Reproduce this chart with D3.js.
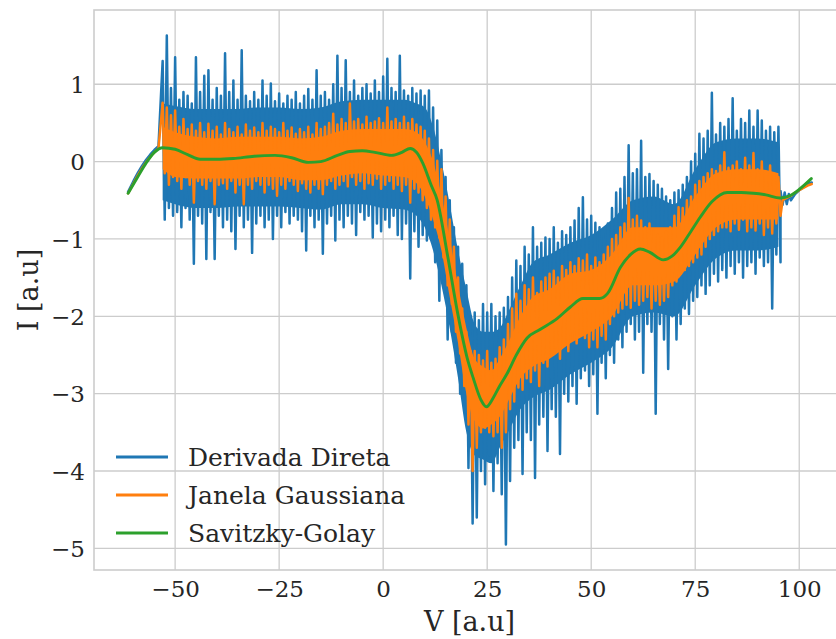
<!DOCTYPE html>
<html>
<head>
<meta charset="utf-8">
<script src="https://cdn.jsdelivr.net/npm/d3@7"></script>
<style>
  body { margin: 0; background: #fff; }
  svg { display: block; font-family: "DejaVu Serif", serif; }
</style>
</head>
<body>
<div id="chart"></div>
<script>
// valores (passo de 1 V na região ruidosa, de -53 a 95)
const noiseStart = -53;

const blueHi = [
  1.3, 1.63, 0.95, 1.35, 0.8, 0.9, 0.85, 0.75, 1.35, 0.9,
  1.11, 1.18, 0.8, 0.95, 0.85, 1.4, 0.9, 1.05, 0.8, 1.44,
  0.85, 0.78, 0.9, 0.8, 1.05, 0.85, 1.01, 0.78, 0.88, 0.75,
  0.85, 0.8, 0.9, 0.75, 0.85, 0.94, 0.8, 1.18, 0.85, 0.9,
  0.8, 1.0, 1.37, 0.95, 1.31, 0.9, 1.05, 0.85, 0.95, 1.0,
  0.88, 1.05, 0.9, 1.1, 1.33, 0.95, 0.9, 1.37, 0.92, 0.85,
  0.95, 0.88, 0.92, 0.85, 0.92, 0.7, 0.53, 0.15, -0.2, -0.5,
  -0.85, -1.1, -1.32, -1.6, -2.0, -1.95, -2.05, -1.84, -1.95, -1.84,
  -2.0, -1.95, -1.89, -1.75, -1.5, -1.28, -1.35, -1.1, -1.2, -0.85,
  -1.1, -1.05, -0.98, -1.0, -0.85, -1.05, -0.9, -0.95, -0.85, -0.76,
  -0.6, -0.46, -0.75, -0.7, -0.79, -0.85, -0.95, -0.8, -0.6, -0.4,
  -0.35, -0.2, 0.21, -0.15, -0.1, 0.27, -0.2, -0.16, -0.25, -0.3,
  -0.35, -0.45, -0.5, -0.4, -0.37, -0.3, -0.2, 0.0, 0.1, 0.36,
  0.3, 0.4, 0.89, 0.35, 0.5, 0.45, 0.55, 0.82, 0.4, 0.55,
  0.5, 0.66, 0.45, 0.66, 0.53, 0.4, 0.45, 0.38, 0.45
];
const blueLo = [
  -0.75, -0.6, -0.7, -0.65, -0.85, -0.6, -0.75, -1.32, -0.7, -0.8,
  -1.26, -0.65, -1.26, -0.7, -0.85, -0.75, -0.9, -1.13, -0.7, -0.85,
  -0.75, -1.18, -0.8, -0.7, -0.85, -0.75, -1.0, -0.7, -0.85, -0.65,
  -0.8, -0.7, -0.75, -0.9, -1.15, -0.7, -0.85, -0.75, -1.19, -0.8,
  -0.7, -1.02, -0.75, -0.85, -0.7, -0.8, -0.95, -0.65, -0.75, -0.7,
  -0.98, -0.8, -0.9, -0.75, -0.85, -0.7, -0.95, -1.0, -0.8, -1.51,
  -0.9, -1.1, -0.95, -1.02, -1.0, -1.3, -1.8, -1.6, -2.3, -2.2,
  -2.6, -3.0, -2.9, -3.96, -4.68, -4.6, -4.0, -4.17, -3.8, -4.26,
  -3.9, -4.3, -4.95, -4.13, -3.7, -3.6, -4.04, -3.5, -3.6, -4.09,
  -3.4, -3.3, -3.74, -3.2, -3.3, -3.78, -3.0, -3.1, -2.9, -3.13,
  -2.8, -2.7, -2.9, -2.75, -3.26, -2.6, -2.8, -2.5, -2.6, -2.3,
  -2.4, -2.2, -2.1, -2.3, -2.2, -2.73, -2.1, -2.2, -3.26, -2.1,
  -2.3, -2.68, -2.0, -2.3, -2.1, -1.9, -1.97, -1.8, -1.75, -1.6,
  -1.71, -1.6, -1.45, -1.55, -1.4, -1.5, -1.35, -1.45, -1.3, -1.5,
  -1.35, -1.3, -1.45, -1.24, -1.35, -1.3, -1.9, -1.2, -1.3
];
const orangeHi = [
  0.76, 0.7, 0.6, 0.66, 0.45, 0.55, 0.42, 0.48, 0.4, 0.5,
  0.38, 0.49, 0.4, 0.45, 0.35, 0.5, 0.42, 0.38, 0.45, 0.35,
  0.48, 0.4, 0.44, 0.38, 0.5, 0.4, 0.45, 0.42, 0.38, 0.5,
  0.4, 0.44, 0.36, 0.42, 0.38, 0.45, 0.35, 0.5, 0.42, 0.45,
  0.5, 0.62, 0.48, 0.55, 0.5, 0.75, 0.52, 0.55, 0.48, 0.58,
  0.5, 0.52, 0.56, 0.5, 0.7, 0.52, 0.55, 0.5, 0.58, 0.5,
  0.55, 0.48, 0.45, 0.4, 0.3, 0.15, 0.01, -0.1, -0.45, -0.75,
  -1.1, -1.5, -1.9, -2.2, -2.45, -2.45, -2.5, -2.57, -2.45, -2.6,
  -2.55, -2.4, -2.3, -2.1, -1.9, -1.71, -1.8, -1.6, -1.65, -1.5,
  -1.7, -1.55, -1.5, -1.45, -1.41, -1.5, -1.35, -1.4, -1.3, -1.35,
  -1.25, -1.28, -1.2, -1.35, -1.24, -1.3, -1.2, -1.1, -1.0, -0.95,
  -0.85, -0.8, -0.47, -0.75, -0.7, -0.76, -0.85, -0.8, -0.9, -0.95,
  -0.98, -0.9, -0.85, -0.7, -0.59, -0.6, -0.5, -0.45, -0.3, -0.25,
  -0.2, -0.15, -0.1, -0.12, -0.05, 0.12, -0.08, -0.05, 0.0, -0.1,
  0.05, -0.05, 0.11, -0.1, 0.0, -0.15, -0.05, -0.16, -0.2
];
const orangeLo = [
  -0.15, -0.3, -0.2, -0.25, -0.35, -0.2, -0.3, -0.53, -0.25, -0.3,
  -0.35, -0.25, -0.55, -0.3, -0.28, -0.35, -0.25, -0.4, -0.3, -0.55,
  -0.3, -0.35, -0.25, -0.3, -0.4, -0.3, -0.35, -0.44, -0.3, -0.35,
  -0.25, -0.3, -0.38, -0.28, -0.35, -0.4, -0.3, -0.35, -0.42, -0.3,
  -0.25, -0.35, -0.3, -0.25, -0.32, -0.2, -0.3, -0.25, -0.35, -0.28,
  -0.3, -0.22, -0.35, -0.3, -0.25, -0.35, -0.3, -0.38, -0.3, -0.53,
  -0.35, -0.4, -0.5, -0.6, -0.75, -0.85, -0.98, -1.24, -1.6, -1.84,
  -2.2, -2.48, -2.9, -3.4, -4.0, -3.7, -3.5, -3.44, -3.5, -3.55,
  -3.5, -3.7, -3.5, -3.2, -3.1, -2.92, -2.95, -2.8, -2.85, -2.7,
  -2.9, -2.6, -2.65, -2.5, -2.4, -2.55, -2.35, -2.45, -2.3, -2.35,
  -2.25, -2.28, -2.4, -2.3, -2.4, -2.25, -2.3, -2.1, -2.0, -1.95,
  -1.9, -1.85, -1.89, -1.8, -1.85, -1.8, -1.75, -1.9, -1.8, -1.85,
  -1.8, -1.75, -1.6, -1.55, -1.45, -1.4, -1.35, -1.3, -1.24, -1.2,
  -1.1, -1.0, -0.95, -0.9, -0.85, -0.85, -0.9, -0.8, -0.88, -0.75,
  -0.9, -0.85, -0.89, -0.8, -0.95, -0.85, -0.93, -0.8, -0.7
];

// faixa densa (onde o traço ruidoso se sobrepõe)
const coreV       = [-53, -50, -45, -40, -35, -30, -25, -20, -15, -10, -5, 0, 5, 8, 10, 12, 14, 16, 18, 20,
  22, 24, 26, 28, 30, 33, 36, 40, 45, 50, 55, 60, 65, 70, 75, 80, 85, 90, 95];
const blueCoreHi  = [0.75, 0.72, 0.68, 0.68, 0.68, 0.7, 0.7, 0.68, 0.7, 0.78, 0.8, 0.8, 0.8, 0.75, 0.7, 0.45, 0.0, -0.55, -1.15, -1.65,
  -2.1, -2.2, -2.2, -2.15, -1.95, -1.6, -1.3, -1.2, -1.05, -0.95, -0.75, -0.5, -0.45, -0.55, -0.1, 0.25, 0.3, 0.3, 0.25];
const blueCoreLo  = [-0.5, -0.55, -0.6, -0.6, -0.58, -0.58, -0.58, -0.6, -0.62, -0.55, -0.55, -0.6, -0.62, -0.7, -0.85, -1.15, -1.6, -2.15, -2.8, -3.5,
  -3.8, -3.85, -3.9, -3.7, -3.5, -3.2, -3.05, -2.95, -2.75, -2.6, -2.4, -2.0, -1.95, -2.0, -1.6, -1.25, -1.15, -1.15, -1.1];
const orangeCoreHi = [0.45, 0.38, 0.32, 0.3, 0.32, 0.32, 0.32, 0.3, 0.32, 0.4, 0.42, 0.42, 0.42, 0.38, 0.25, 0.0, -0.45, -1.0, -1.6, -2.15,
  -2.55, -2.65, -2.7, -2.55, -2.35, -2.0, -1.75, -1.65, -1.45, -1.4, -1.2, -0.85, -0.85, -0.85, -0.45, -0.15, -0.1, -0.1, -0.15];
const orangeCoreLo = [-0.1, -0.2, -0.22, -0.22, -0.22, -0.2, -0.2, -0.24, -0.24, -0.18, -0.15, -0.18, -0.2, -0.28, -0.45, -0.75, -1.15, -1.75, -2.35, -3.0,
  -3.35, -3.45, -3.4, -3.3, -3.1, -2.8, -2.65, -2.55, -2.35, -2.2, -2.0, -1.6, -1.6, -1.55, -1.2, -0.85, -0.75, -0.75, -0.75];

// trechos suaves nas pontas
const headV      = [-61.3, -60, -59, -58, -57, -56, -55, -54];
const blueHead   = [-0.39, -0.25, -0.15, -0.06, 0.02, 0.09, 0.15, 0.2];
const orangeHead = [-0.41, -0.28, -0.18, -0.09, -0.01, 0.06, 0.12, 0.17];
const blueTailV  = [95.5, 96, 96.5, 97, 97.5, 98, 99, 100, 101, 102, 103];
const blueTail   = [-0.38, -0.56, -0.4, -0.55, -0.42, -0.5, -0.42, -0.37, -0.33, -0.29, -0.27];
const orangeTailV = [96, 97, 98, 99, 100, 101, 102, 103];
const orangeTail  = [-0.5, -0.47, -0.44, -0.4, -0.37, -0.34, -0.31, -0.29];

// Savitzky-Golay
const sgV = [-61.3, -59, -57, -55, -53, -50, -47, -44, -40, -36, -31, -26, -22, -18, -15, -11, -8, -5, -2, 2,
  4.5, 6.5, 8, 9.6, 11.5, 13, 15.4, 17.8, 20.2, 21.6, 23.5, 24.8, 26.5, 28, 29.8, 32, 34.6, 37.7, 41.8, 45,
  48, 50, 52, 54, 57, 59.5, 61.8, 64, 67.3, 69.5, 71.4, 74, 76.2, 79, 82.7, 86, 89, 92, 95.4, 97.8, 100.2, 102.9];
const sgI = [-0.41, -0.2, -0.02, 0.12, 0.18, 0.16, 0.09, 0.03, 0.03, 0.04, 0.07, 0.08, 0.05, -0.01, 0.0, 0.08, 0.13, 0.14, 0.12, 0.08,
  0.12, 0.17, 0.12, -0.03, -0.3, -0.5, -1.19, -1.93, -2.54, -2.79, -3.08, -3.17, -3.05, -2.9, -2.74, -2.5, -2.28, -2.17, -2.03, -1.88,
  -1.77, -1.77, -1.77, -1.7, -1.37, -1.2, -1.13, -1.17, -1.27, -1.22, -1.11, -0.9, -0.72, -0.52, -0.4, -0.4, -0.41, -0.43, -0.47, -0.44, -0.35, -0.22];

const xTicks = [-50, -25, 0, 25, 50, 75, 100];
const yTicks = [-5, -4, -3, -2, -1, 0, 1];
const seriesNames = ["Derivada Direta", "Janela Gaussiana", "Savitzky-Golay"];
const seriesColors = ["#1f77b4", "#ff7f0e", "#2ca02c"];

const width = 836, height = 639;
const plot = { left: 94, right: 845, top: 10, bottom: 570 };

const x = d3.scaleLinear().domain([-69.5, 111.0]).range([plot.left, plot.right]);
const y = d3.scaleLinear().domain([-5.28, 1.96]).range([plot.bottom, plot.top]);

function buildSeries(hV, hI, hi, lo, tV, tI) {
  const pts = hV.map((v, i) => [v, hI[i]]);
  hi.forEach((h, i) => {
    const v = noiseStart + i;
    pts.push([v, h]);
    pts.push([v + 0.5, lo[i]]);
  });
  tV.forEach((v, i) => pts.push([v, tI[i]]));
  return pts;
}

const blueData = buildSeries(headV, blueHead, blueHi, blueLo, blueTailV, blueTail);
const orangeData = buildSeries(headV, orangeHead, orangeHi, orangeLo, orangeTailV, orangeTail);
const sgData = sgV.map((v, i) => [v, sgI[i]]);
const blueCore = coreV.map((v, i) => [v, blueCoreHi[i], blueCoreLo[i]]);
const orangeCore = coreV.map((v, i) => [v, orangeCoreHi[i], orangeCoreLo[i]]);

const svg = d3.select("#chart").append("svg")
  .attr("width", width)
  .attr("height", height);

svg.append("defs").append("clipPath").attr("id", "clip")
  .append("rect")
  .attr("x", plot.left).attr("y", plot.top)
  .attr("width", plot.right - plot.left).attr("height", plot.bottom - plot.top);

// grade
const grid = svg.append("g").attr("stroke", "#cccccc").attr("stroke-width", 1.3);
grid.selectAll(".gx").data(xTicks).join("line")
  .attr("x1", d => x(d)).attr("x2", d => x(d))
  .attr("y1", plot.top).attr("y2", plot.bottom);
grid.selectAll(".gy").data(yTicks).join("line")
  .attr("x1", plot.left).attr("x2", plot.right)
  .attr("y1", d => y(d)).attr("y2", d => y(d));

svg.append("rect")
  .attr("x", plot.left).attr("y", plot.top)
  .attr("width", plot.right - plot.left).attr("height", plot.bottom - plot.top)
  .attr("fill", "none").attr("stroke", "#cccccc").attr("stroke-width", 1.6);

// linhas
const line = d3.line().x(d => x(d[0])).y(d => y(d[1]));
const smooth = d3.line().x(d => x(d[0])).y(d => y(d[1])).curve(d3.curveMonotoneX);
const band = d3.area().x(d => x(d[0])).y0(d => y(d[2])).y1(d => y(d[1])).curve(d3.curveMonotoneX);

const lines = svg.append("g").attr("clip-path", "url(#clip)")
  .attr("stroke-linejoin", "round").attr("stroke-linecap", "round");

lines.append("path").datum(blueCore).attr("d", band)
  .attr("fill", seriesColors[0]);
lines.append("path").datum(blueData).attr("d", line)
  .attr("fill", "none").attr("stroke", seriesColors[0]).attr("stroke-width", 2.5);
lines.append("path").datum(orangeCore).attr("d", band)
  .attr("fill", seriesColors[1]);
lines.append("path").datum(orangeData).attr("d", line)
  .attr("fill", "none").attr("stroke", seriesColors[1]).attr("stroke-width", 2.5);
lines.append("path").datum(sgData).attr("d", smooth)
  .attr("fill", "none").attr("stroke", seriesColors[2]).attr("stroke-width", 2.9);

// eixos
const xAxis = svg.append("g")
  .attr("transform", `translate(0,${plot.bottom})`)
  .call(d3.axisBottom(x).tickValues(xTicks).tickSize(0).tickPadding(0)
    .tickFormat(d => d < 0 ? "\u2212" + Math.abs(d) : d));
xAxis.select(".domain").remove();
xAxis.selectAll("text")
  .attr("y", 27).attr("dy", null)
  .attr("font-size", 23).attr("fill", "#262626")
  .attr("font-family", "DejaVu Serif");

const yAxis = svg.append("g")
  .attr("transform", `translate(${plot.left},0)`)
  .call(d3.axisLeft(y).tickValues(yTicks).tickSize(0).tickPadding(0)
    .tickFormat(d => d < 0 ? "\u2212" + Math.abs(d) : d));
yAxis.select(".domain").remove();
yAxis.selectAll("text")
  .attr("x", -9).attr("dy", "0.36em")
  .attr("font-size", 23).attr("fill", "#262626")
  .attr("font-family", "DejaVu Serif");

svg.append("text")
  .attr("x", (plot.left + plot.right) / 2).attr("y", 631)
  .attr("text-anchor", "middle")
  .attr("font-size", 27).attr("fill", "#262626")
  .text("V [a.u]");

svg.append("text")
  .attr("transform", `translate(38,${(plot.top + plot.bottom) / 2}) rotate(-90)`)
  .attr("text-anchor", "middle")
  .attr("font-size", 27).attr("fill", "#262626")
  .text("I [a.u]");

// legenda
const legend = svg.append("g");
seriesNames.forEach((name, i) => {
  const ly = 457 + i * 38;
  legend.append("line")
    .attr("x1", 116).attr("x2", 168).attr("y1", ly).attr("y2", ly)
    .attr("stroke", seriesColors[i]).attr("stroke-width", 2.9);
  legend.append("text")
    .attr("x", 188).attr("y", ly).attr("dy", "0.35em")
    .attr("font-size", 25).attr("fill", "#262626")
    .text(name);
});
</script>
</body>
</html>
